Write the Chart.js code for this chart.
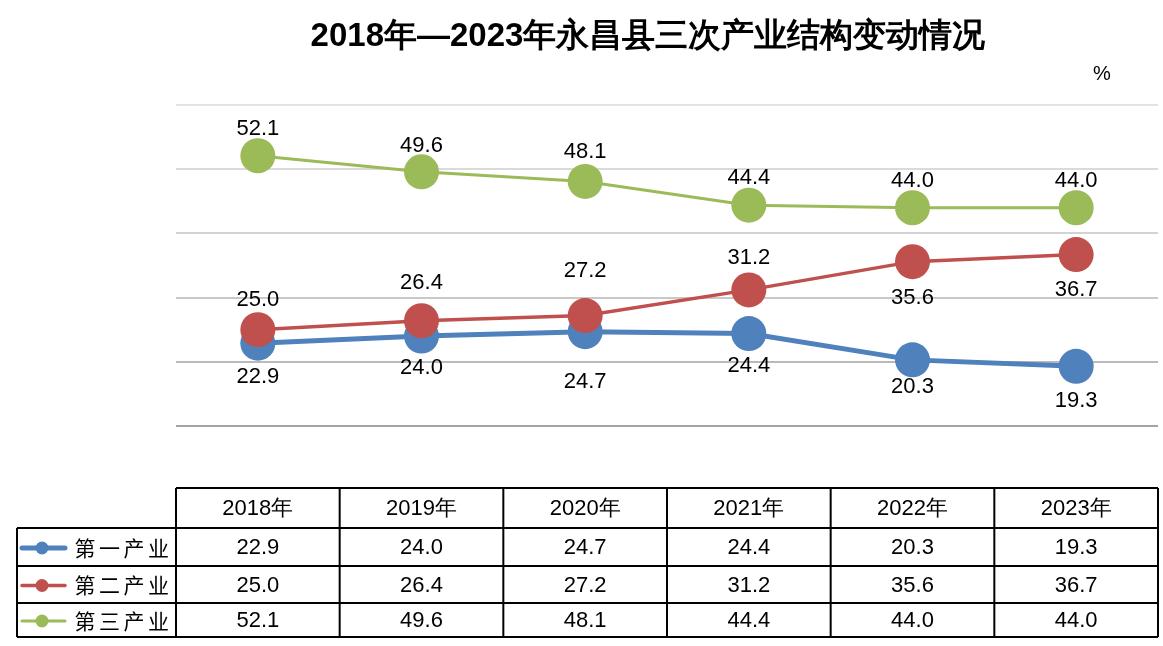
<!DOCTYPE html>
<html>
<head>
<meta charset="utf-8">
<script src="https://cdn.jsdelivr.net/npm/chart.js@4.4.1/dist/chart.umd.min.js"></script>
<style>
  html, body { margin: 0; padding: 0; background: #ffffff; }
  #wrap { width: 1163px; height: 646px; }
</style>
</head>
<body>
<div id="wrap"><canvas id="industryChart" width="1163" height="646"></canvas></div>
<script>
const years = ['2018年', '2019年', '2020年', '2021年', '2022年', '2023年'];
const seriesNames = ['第一产业', '第二产业', '第三产业'];
const primary = [22.9, 24.0, 24.7, 24.4, 20.3, 19.3];
const secondary = [25.0, 26.4, 27.2, 31.2, 35.6, 36.7];
const tertiary = [52.1, 49.6, 48.1, 44.4, 44.0, 44.0];
const yTicks = [10, 20, 30, 40, 50, 60];

const numFont = '"Liberation Sans", Arial, sans-serif';
const cjkFont = '"Noto Sans CJK SC", sans-serif';

// 网格线颜色：上浅下深
const gridColors = ['#a3a3a3', '#bababa', '#c8c8c8', '#d2d2d2', '#dadada', '#e3e3e3'];

// 数据标签
const valueLabels = {
    id: 'valueLabels',
    afterDatasetsDraw(chart) {
        const ctx = chart.ctx;
        ctx.save();
        ctx.font = '22px ' + numFont;
        ctx.fillStyle = '#000000';
        ctx.textAlign = 'center';
        ctx.textBaseline = 'middle';
        chart.data.datasets.forEach((ds, i) => {
            const meta = chart.getDatasetMeta(i);
            meta.data.forEach((pt, j) => {
                const dy = ds.labelDy[j];
                ctx.fillText(ds.data[j].toFixed(1), pt.x, pt.y + dy);
            });
        });
        ctx.restore();
    }
};

// 标题、单位和数据表
const titleAndTable = {
    id: 'titleAndTable',
    afterDraw(chart) {
        const ctx = chart.ctx;
        const area = chart.chartArea;
        const xs = chart.scales.x;
        const colW = (area.right - area.left) / years.length;
        ctx.save();

        // 标题
        ctx.fillStyle = '#000000';
        ctx.textBaseline = 'middle';
        ctx.textAlign = 'center';
        ctx.font = 'bold 33px ' + numFont;
        ctx.fillText('2018年—2023年永昌县三次产业结构变动情况', 648, 37);

        // 单位
        ctx.font = '20px ' + numFont;
        ctx.fillText('%', 1102, 74);

        // 表格
        const rowsY = [488, 528, 566, 603, 637];
        const leftX = 17;
        ctx.strokeStyle = '#000000';
        ctx.lineWidth = 2;
        ctx.beginPath();
        ctx.moveTo(area.left, rowsY[0]);
        ctx.lineTo(area.right, rowsY[0]);
        for (let r = 1; r < rowsY.length; r++) {
            ctx.moveTo(leftX, rowsY[r]);
            ctx.lineTo(area.right, rowsY[r]);
        }
        for (let c = 0; c <= years.length; c++) {
            const x = area.left + c * colW;
            ctx.moveTo(x, rowsY[0]);
            ctx.lineTo(x, rowsY[4]);
        }
        ctx.moveTo(leftX, rowsY[1]);
        ctx.lineTo(leftX, rowsY[4]);
        ctx.stroke();

        ctx.textAlign = 'center';
        ctx.font = '22px ' + numFont;
        years.forEach((y, c) => {
            const cx = xs.getPixelForValue(c);
            ctx.fillText(y, cx, (rowsY[0] + rowsY[1]) / 2 + 1);
        });

        chart.data.datasets.forEach((ds, r) => {
            const cy = (rowsY[r + 1] + rowsY[r + 2]) / 2 + 1;
            ctx.font = '22px ' + numFont;
            ctx.fillStyle = '#000000';
            ds.data.forEach((v, c) => {
                ctx.fillText(v.toFixed(1), xs.getPixelForValue(c), cy);
            });

            // 图例
            ctx.strokeStyle = ds.borderColor;
            ctx.lineWidth = ds.borderWidth;
            ctx.lineCap = 'round';
            ctx.beginPath();
            ctx.moveTo(22, cy);
            ctx.lineTo(65, cy);
            ctx.stroke();
            ctx.fillStyle = ds.backgroundColor;
            ctx.beginPath();
            ctx.arc(42, cy, 6.5, 0, Math.PI * 2);
            ctx.fill();

            ctx.fillStyle = '#000000';
            ctx.font = '21px ' + cjkFont;
            Array.from(seriesNames[r]).forEach((ch, k) => {
                ctx.fillText(ch, 85 + k * 24.5, cy);
            });
        });

        ctx.restore();
    }
};

new Chart(document.getElementById('industryChart').getContext('2d'), {
    type: 'line',
    data: {
        labels: years,
        datasets: [{
            label: seriesNames[0],
            data: primary,
            borderColor: '#4F81BD',
            backgroundColor: '#4F81BD',
            borderWidth: 5,
            pointRadius: 17.5,
            pointBorderWidth: 0,
            order: 2,
            labelDy: [34, 32, 50, 32, 27, 35]
        }, {
            label: seriesNames[1],
            data: secondary,
            borderColor: '#C0504D',
            backgroundColor: '#C0504D',
            borderWidth: 3.5,
            pointRadius: 17.5,
            pointBorderWidth: 0,
            order: 1,
            labelDy: [-30, -38, -45, -32, 36, 35]
        }, {
            label: seriesNames[2],
            data: tertiary,
            borderColor: '#9BBB59',
            backgroundColor: '#9BBB59',
            borderWidth: 3,
            pointRadius: 17.5,
            pointBorderWidth: 0,
            order: 3,
            labelDy: [-27, -26, -29, -27, -27, -27]
        }]
    },
    options: {
        responsive: false,
        animation: false,
        devicePixelRatio: 1,
        layout: {
            autoPadding: false,
            padding: { left: 176, right: 5, top: 105, bottom: 220 }
        },
        plugins: {
            legend: { display: false },
            title: { display: false },
            tooltip: { enabled: false }
        },
        scales: {
            x: {
                type: 'category',
                offset: true,
                display: false,
                grid: { display: false }
            },
            y: {
                min: yTicks[0],
                max: yTicks[yTicks.length - 1],
                afterBuildTicks: (axis) => {
                    axis.ticks = yTicks.map(v => ({ value: v }));
                },
                ticks: { display: false },
                border: { display: false },
                grid: {
                    drawTicks: false,
                    lineWidth: 2,
                    color: (c) => gridColors[c.index] || '#d0d0d0'
                }
            }
        }
    },
    plugins: [valueLabels, titleAndTable]
});
</script>
</body>
</html>
